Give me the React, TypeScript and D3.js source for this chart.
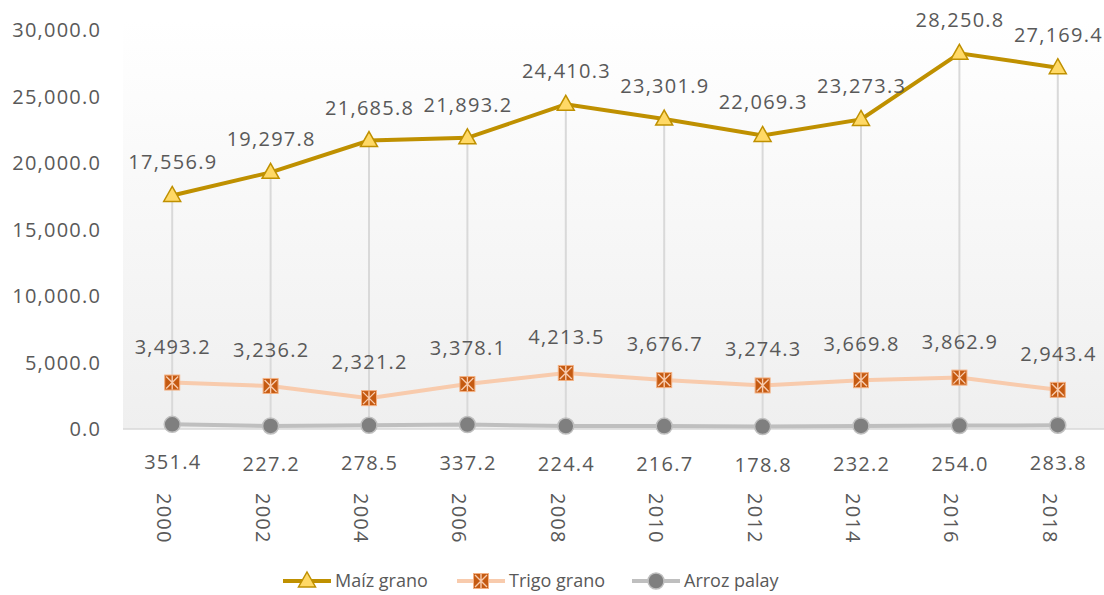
import React from "react";
import * as d3 from "d3";

const years = ["2000", "2002", "2004", "2006", "2008", "2010", "2012", "2014", "2016", "2018"];
const maiz = [17556.9, 19297.8, 21685.8, 21893.2, 24410.3, 23301.9, 22069.3, 23273.3, 28250.8, 27169.4];
const trigo = [3493.2, 3236.2, 2321.2, 3378.1, 4213.5, 3676.7, 3274.3, 3669.8, 3862.9, 2943.4];
const arroz = [351.4, 227.2, 278.5, 337.2, 224.4, 216.7, 178.8, 232.2, 254.0, 283.8];
const yTicks = [0, 5000, 10000, 15000, 20000, 25000, 30000];
const seriesNames = ["Maíz grano", "Trigo grano", "Arroz palay"];

const W = 1104;
const H = 595;
const FONT = "'Open Sans', sans-serif";
const TXT = "#595959";
const LS = 1.25;

export default function App() {
  const left = 123;
  const right = 1107;
  const top = 30;
  const bottom = 429;
  const x = d3.scaleBand<string>().domain(years).range([left, right]);
  const cx = (i: number) => (x(years[i]) as number) + x.bandwidth() / 2;
  const y = d3.scaleLinear().domain([0, 30000]).range([bottom, top]);
  const fmt = d3.format(",.1f");
  const line = d3
    .line<number>()
    .x((_, i) => cx(i))
    .y((d) => y(d));

  const tri = (px: number, py: number, key: string) => (
    <path
      key={key}
      d={`M${px},${py - 9} L${px + 8.5},${py + 6} L${px - 8.5},${py + 6} Z`}
      fill="#FFD966"
      stroke="#BF9000"
      strokeWidth={1.5}
    />
  );
  const sq = (px: number, py: number, key: string) => (
    <g key={key}>
      <rect x={px - 7.5} y={py - 7.5} width={15} height={15} fill="#C55A11" stroke="#F4B183" strokeWidth={1} />
      <path
        d={`M${px - 6},${py - 6} L${px + 6},${py + 6} M${px + 6},${py - 6} L${px - 6},${py + 6} M${px},${py - 7} L${px},${py + 7}`}
        stroke="#F8CBAD"
        strokeWidth={1.4}
      />
    </g>
  );
  const circ = (px: number, py: number, key: string) => (
    <circle key={key} cx={px} cy={py} r={8} fill="#7F7F7F" stroke="#BFBFBF" strokeWidth={1.5} />
  );

  const legendItems = [
    { x0: 283, name: seriesNames[0], color: "#BF9000", mk: tri },
    { x0: 457, name: seriesNames[1], color: "#F8CBAD", mk: sq },
    { x0: 632, name: seriesNames[2], color: "#BFBFBF", mk: circ },
  ];

  const numText = (key: string, tx: number, ty: number, s: string, anchor: "middle" | "end") => (
    <text
      key={key}
      x={anchor === "middle" ? tx + LS / 2 : tx + LS}
      y={ty}
      dy="0.35em"
      textAnchor={anchor}
      fontSize={20}
      letterSpacing={LS}
      fill={TXT}
    >
      {s}
    </text>
  );

  return (
    <svg width={W} height={H} style={{ position: "absolute", left: 0, top: 0, fontFamily: FONT }}>
      <defs>
        <linearGradient id="bg" x1="0" y1="0" x2="0" y2="1">
          <stop offset="0" stopColor="#ffffff" />
          <stop offset="1" stopColor="#efefef" />
        </linearGradient>
      </defs>
      <rect x={0} y={0} width={W} height={H} fill="#fff" />
      <rect x={left} y={top - 10} width={W - left} height={bottom - top + 10} fill="url(#bg)" />
      {yTicks.map((t) => numText("y" + t, 100, y(t), fmt(t), "end"))}
      {maiz.map((v, i) => (
        <line key={"dl" + i} x1={cx(i)} x2={cx(i)} y1={y(v)} y2={bottom} stroke="#D9D9D9" strokeWidth={2} />
      ))}
      <line x1={left} x2={W} y1={bottom} y2={bottom} stroke="#D9D9D9" strokeWidth={1.5} />
      <path d={line(arroz) || ""} fill="none" stroke="#BFBFBF" strokeWidth={4} />
      <path d={line(trigo) || ""} fill="none" stroke="#F8CBAD" strokeWidth={4} />
      <path d={line(maiz) || ""} fill="none" stroke="#BF9000" strokeWidth={4} />
      {arroz.map((v, i) => circ(cx(i), y(v), "c" + i))}
      {trigo.map((v, i) => sq(cx(i), y(v), "s" + i))}
      {maiz.map((v, i) => tri(cx(i), y(v), "t" + i))}
      {maiz.map((v, i) => numText("lm" + i, cx(i), y(v) - 33, fmt(v), "middle"))}
      {trigo.map((v, i) => numText("lt" + i, cx(i), y(v) - 36, fmt(v), "middle"))}
      {arroz.map((v, i) => numText("la" + i, cx(i), y(v) + 38, fmt(v), "middle"))}
      {years.map((yr, i) => (
        <text
          key={yr}
          transform={`translate(${cx(i) - 8},${493}) rotate(90)`}
          dy="0.35em"
          fontSize={20}
          letterSpacing={LS}
          fill={TXT}
        >
          {yr}
        </text>
      ))}
      {legendItems.map((it) => (
        <g key={it.name}>
          <line x1={it.x0} x2={it.x0 + 48} y1={581} y2={581} stroke={it.color} strokeWidth={4} />
          {it.mk(it.x0 + 24, 581, "lm" + it.name)}
          <text x={it.x0 + 52} y={581} dy="0.35em" fontSize={18} fill={TXT}>
            {it.name}
          </text>
        </g>
      ))}
    </svg>
  );
}
